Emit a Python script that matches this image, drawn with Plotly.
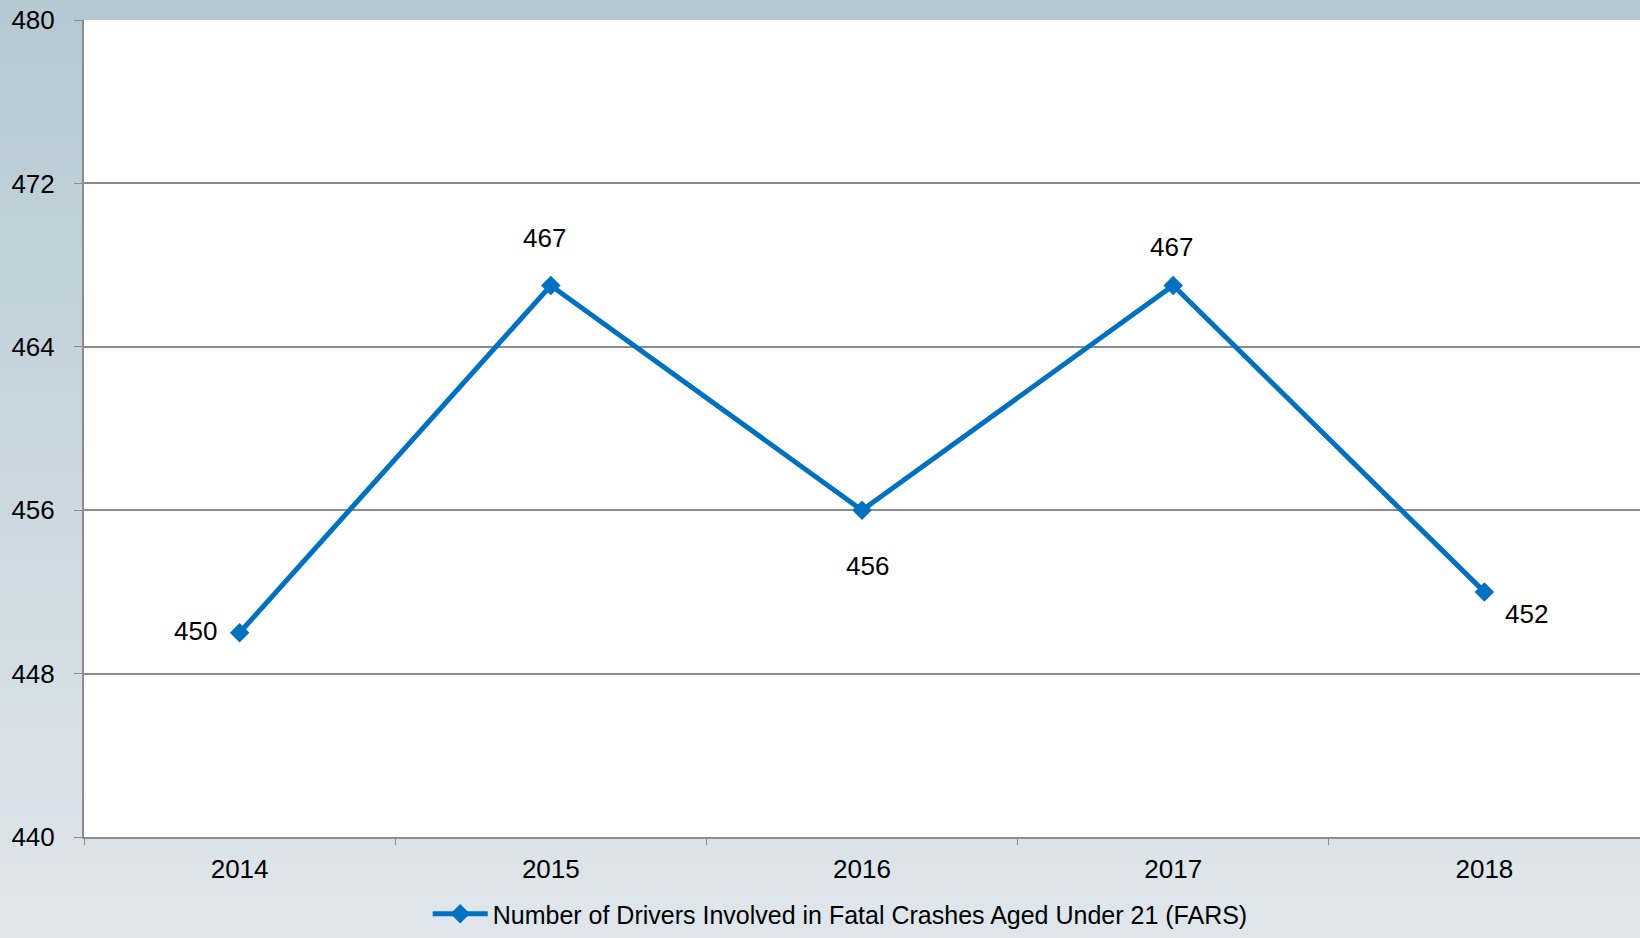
import plotly.graph_objects as go

years = ["2014", "2015", "2016", "2017", "2018"]
drivers = [450, 467, 456, 467, 452]
series_name = "Number of Drivers Involved in Fatal Crashes Aged Under 21 (FARS)"
y_ticks = [440, 448, 456, 464, 472, 480]

# label offsets (pixels) relative to each point, Excel-style placement
label_dx = [-44, -6, 5, -2, 42]
label_dy = [2, 48, -56, 39, -22]

LINE = "#0070C0"
GRID = "#8C8C8C"
FONT = "Liberation Sans, Arial, sans-serif"

fig = go.Figure()
fig.add_trace(go.Scatter(
    x=years, y=drivers, mode="lines+markers", name=series_name,
    line=dict(color=LINE, width=5),
    marker=dict(symbol="diamond", size=15, color=LINE),
    cliponaxis=False,
))

for i, (v, dx, dy) in enumerate(zip(drivers, label_dx, label_dy)):
    fig.add_annotation(x=i, y=v, text=str(v), showarrow=False,
                       xshift=dx, yshift=dy,
                       font=dict(family=FONT, size=26, color="#000000"))

# vertical gradient background (paper)
top = (180, 200, 210)
bot = (226, 232, 237)
n = 60
shapes = []
for i in range(n):
    t = i / (n - 1)
    c = tuple(round(top[k] + (bot[k] - top[k]) * t) for k in range(3))
    y1 = 1 - i / n
    y0 = 1 - (i + 1) / n
    shapes.append(dict(type="rect", xref="paper", yref="paper",
                       x0=-0.1, x1=1.1, y0=-0.2 + 1.25 * y0, y1=-0.2 + 1.25 * y1 + 0.001,
                       fillcolor="rgb(%d,%d,%d)" % c, line=dict(width=0), layer="below"))
# white plot area on top of gradient
shapes.append(dict(type="rect", xref="paper", yref="paper", x0=0, x1=1, y0=0, y1=1,
                   fillcolor="white", line=dict(width=0), layer="below"))

fig.update_layout(
    width=1640, height=938,
    margin=dict(l=84, r=0, t=20, b=101),
    paper_bgcolor="rgb(210,220,228)",
    plot_bgcolor="white",
    shapes=shapes,
    showlegend=True,
    legend=dict(orientation="h", x=0.486, xanchor="center", y=-0.1225, yanchor="bottom",
                font=dict(family="Liberation Sans Narrow, Liberation Sans, Arial, sans-serif",
                          size=25, color="#000000"),
                bgcolor="rgba(0,0,0,0)", itemwidth=55),
    font=dict(family=FONT, size=26, color="#000000"),
)

fig.update_xaxes(
    type="category", range=[-0.5, len(years) - 0.5], tickson="boundaries",
    ticks="outside", ticklen=6, tickangle=0,
    tickcolor=GRID, showline=True, linecolor=GRID, linewidth=2,
    showgrid=False, tickfont=dict(family=FONT, size=26, color="#000000"),
    ticklabelstandoff=8,
)
fig.update_yaxes(
    range=[440, 480], tickvals=y_ticks, ticks="outside", ticklen=8,
    tickcolor=GRID, showline=True, linecolor=GRID, linewidth=2,
    showgrid=True, gridcolor=GRID, gridwidth=1.5, zeroline=False,
    tickfont=dict(family=FONT, size=26, color="#000000"),
    ticklabelstandoff=14,
)

fig.write_html("out.html", config={"displayModeBar": False},
               post_script="document.body.style.margin='0';document.body.style.overflow='hidden';")
